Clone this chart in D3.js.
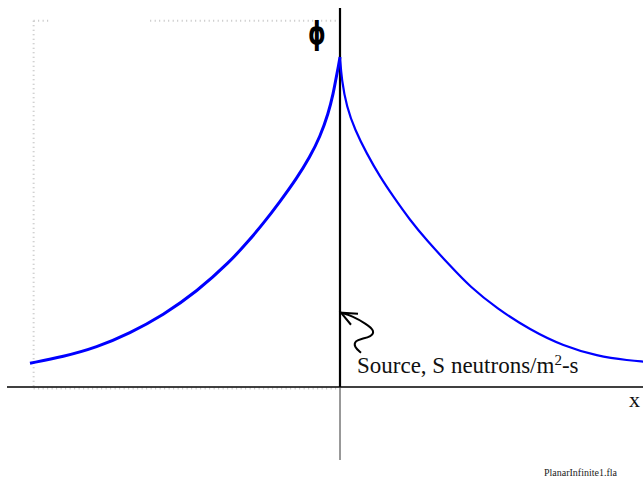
<!DOCTYPE html>
<head>
<meta charset="utf-8">
<style>
body { margin: 0; background: #fff; }
.axis-line { stroke: #000; }
.guide { stroke: #c4c4c4; stroke-width: 2; stroke-dasharray: 1,3.5; fill: none; }
.flux { fill: none; stroke: #0000ff; }
text { font-family: "Liberation Serif", "Times New Roman", serif; }
</style>
</head>
<body>
<svg width="643" height="487"></svg>
<script src="https://d3js.org/d3.v7.min.js"></script>
<script>
// flux, left and right of the planar source (x = 0)
var leftX   = [-9.31, -8.31, -7.31, -6.31, -5.31, -4.30, -3.30, -2.75, -2.30, -1.80, -1.30, -0.90, -0.60, -0.35, -0.20, -0.12, -0.06, 0];
var leftPhi = [0.072, 0.092, 0.120, 0.163, 0.218, 0.289, 0.380, 0.442, 0.496, 0.562, 0.632, 0.698, 0.758, 0.829, 0.890, 0.935, 0.965, 1.0];
var rightX   = [0, 0.05, 0.20, 0.45, 0.80, 1.20, 1.60, 2.10, 2.60, 3.30, 3.90, 4.71, 5.71, 6.71, 7.71, 8.71, 9.11];
var rightPhi = [1.0, 0.930, 0.849, 0.779, 0.708, 0.637, 0.577, 0.506, 0.445, 0.368, 0.304, 0.238, 0.173, 0.124, 0.094, 0.080, 0.077];

var svg = d3.select("svg");

var x = d3.scaleLinear().domain([-10, 10]).range([7, 673]);
var y = d3.scaleLinear().domain([0, 1]).range([387, 57]);

var line = d3.line()
    .x(function(d) { return x(d[0]); })
    .y(function(d) { return y(d[1]); })
    .curve(d3.curveBasis);

// dotted guides (frame of the plot area)
svg.append("path").attr("class", "guide")
    .attr("d", "M" + x(-9.2) + "," + y(1.11) + "V" + y(0));
svg.append("path").attr("class", "guide")
    .attr("d", "M" + x(-9.2) + "," + y(1.11) + "H" + x(-8.7));
svg.append("path").attr("class", "guide")
    .attr("d", "M" + x(-5.7) + "," + y(1.11) + "H" + x(-0.1));
svg.append("path").attr("class", "guide")
    .attr("d", "M" + x(-9.2) + "," + (y(0) + 1.5) + "H" + x(-0.1));

// axes
svg.append("line").attr("class", "axis-line")
    .attr("x1", x(-10)).attr("x2", 643)
    .attr("y1", y(0)).attr("y2", y(0))
    .attr("stroke-width", 1.5);
svg.append("line").attr("class", "axis-line")
    .attr("x1", x(0)).attr("x2", x(0))
    .attr("y1", 8).attr("y2", y(0))
    .attr("stroke-width", 2.2);
svg.append("line")
    .attr("x1", x(0)).attr("x2", x(0))
    .attr("y1", y(0)).attr("y2", 460)
    .attr("stroke", "#333").attr("stroke-width", 1);

// flux curve
svg.append("path").attr("class", "flux")
    .attr("stroke-width", 3)
    .attr("d", line(d3.zip(leftX, leftPhi)));
svg.append("path").attr("class", "flux")
    .attr("stroke-width", 2.2)
    .attr("d", line(d3.zip(rightX, rightPhi)));

// labels
svg.append("text")
    .attr("transform", "translate(" + (x(0) - 23) + ",44) scale(0.72,1)")
    .attr("text-anchor", "middle")
    .style("font-family", "DejaVu Sans")
    .style("font-weight", "bold")
    .style("font-size", "31px")
    .text("\u03d5");

svg.append("text")
    .attr("x", 640).attr("y", 407)
    .attr("text-anchor", "end")
    .style("font-size", "22px")
    .style("fill", "#111")
    .text("x");

var src = svg.append("text")
    .attr("x", x(0) + 17).attr("y", 373)
    .style("font-size", "23px")
    .style("fill", "#111");
src.append("tspan").text("Source, S neutrons/m");
src.append("tspan").attr("dy", -8).style("font-size", "15px").text("2");
src.append("tspan").attr("dy", 8).text("-s");

// hand drawn arrow pointing at the source plane
var ax = x(0), ay = y(0.225);
var squiggle = [[1, 0], [12, 3], [26, 11], [35, 18], [31, 24], [22, 26], [15, 28], [14, 34], [21, 40]];
svg.append("path")
    .attr("d", d3.line().curve(d3.curveBasis)(squiggle.map(function(p) { return [ax + p[0], ay + p[1]]; })))
    .attr("fill", "none").attr("stroke", "#000").attr("stroke-width", 2);
svg.append("path")
    .attr("d", "M" + (ax + 18) + "," + (ay + 1) + "L" + (ax + 1) + "," + ay + "L" + (ax + 11) + "," + (ay + 12))
    .attr("fill", "none").attr("stroke", "#000").attr("stroke-width", 2);

svg.append("text")
    .attr("x", 617).attr("y", 476)
    .attr("text-anchor", "end")
    .style("font-size", "10px")
    .style("fill", "#222")
    .text("PlanarInfinite1.fla");
</script>
</body>
